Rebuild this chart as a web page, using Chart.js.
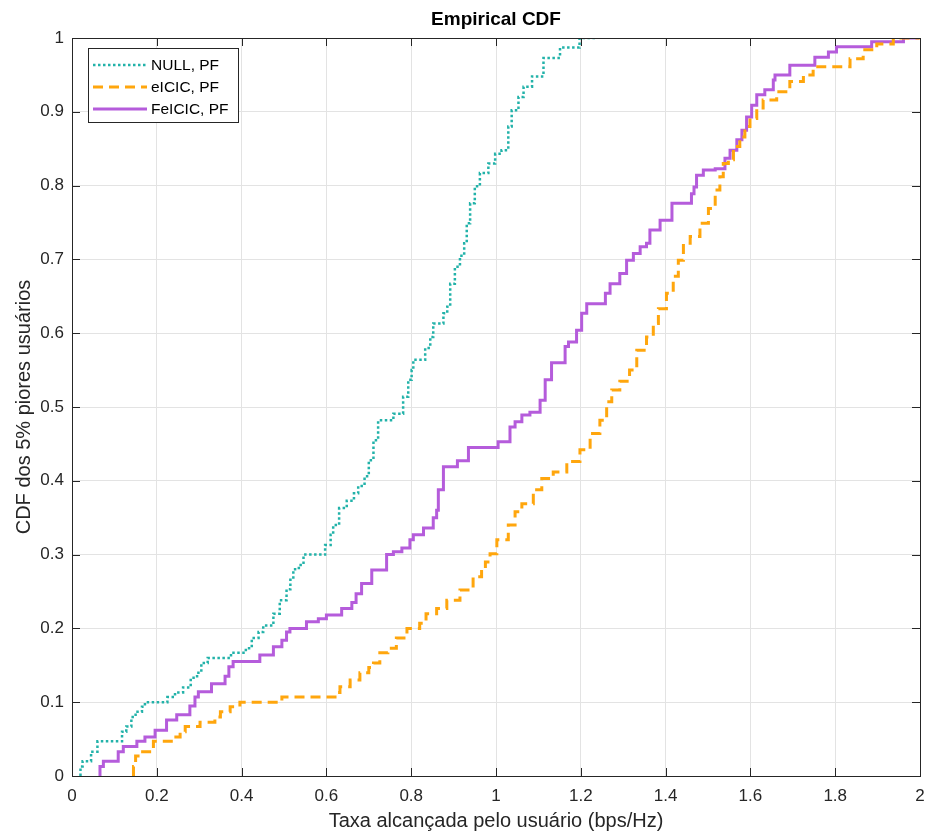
<!DOCTYPE html>
<html>
<head>
<meta charset="utf-8">
<script src="https://cdn.jsdelivr.net/npm/chart.js@4.4.0/dist/chart.umd.min.js"></script>
<style>
  html, body { margin: 0; padding: 0; background: #fff; }
  #wrap { width: 926px; height: 837px; }
</style>
</head>
<body>
<div id="wrap"><canvas id="grafico" width="926" height="837"></canvas></div>
<script>
// dados (CDF empírica, pontos de degrau)
const rotulos = ['NULL, PF', 'eICIC, PF', 'FeICIC, PF'];

const nullX = [0.020, 0.025, 0.045, 0.060, 0.118, 0.128, 0.140, 0.150, 0.165, 0.172, 0.225, 0.243, 0.262, 0.280, 0.295, 0.305, 0.320, 0.375, 0.410, 0.424, 0.440, 0.451, 0.475, 0.490, 0.506, 0.515, 0.522, 0.535, 0.546, 0.597, 0.610, 0.616, 0.630, 0.648, 0.665, 0.675, 0.690, 0.700, 0.711, 0.722, 0.758, 0.781, 0.793, 0.801, 0.805, 0.833, 0.845, 0.852, 0.876, 0.885, 0.892, 0.903, 0.915, 0.925, 0.931, 0.939, 0.950, 0.962, 0.982, 0.998, 1.013, 1.029, 1.037, 1.053, 1.065, 1.085, 1.112, 1.151, 1.197, 1.237];
const nullY = [0.000, 0.013, 0.020, 0.033, 0.047, 0.060, 0.067, 0.080, 0.087, 0.094, 0.100, 0.107, 0.113, 0.120, 0.133, 0.140, 0.153, 0.160, 0.167, 0.173, 0.187, 0.195, 0.204, 0.220, 0.238, 0.253, 0.266, 0.280, 0.286, 0.300, 0.313, 0.327, 0.340, 0.363, 0.373, 0.383, 0.393, 0.406, 0.428, 0.455, 0.482, 0.491, 0.514, 0.537, 0.550, 0.564, 0.580, 0.595, 0.613, 0.627, 0.636, 0.667, 0.690, 0.705, 0.722, 0.749, 0.776, 0.799, 0.817, 0.830, 0.843, 0.848, 0.880, 0.902, 0.920, 0.934, 0.948, 0.973, 0.987, 1.000];

const eicicX = [0.145, 0.150, 0.160, 0.192, 0.239, 0.255, 0.267, 0.302, 0.337, 0.350, 0.373, 0.396, 0.495, 0.624, 0.632, 0.656, 0.679, 0.700, 0.711, 0.726, 0.745, 0.765, 0.790, 0.820, 0.835, 0.860, 0.884, 0.915, 0.946, 0.966, 0.975, 0.986, 1.002, 1.029, 1.045, 1.061, 1.088, 1.108, 1.135, 1.167, 1.198, 1.222, 1.245, 1.261, 1.273, 1.292, 1.315, 1.332, 1.355, 1.371, 1.383, 1.402, 1.418, 1.430, 1.442, 1.458, 1.481, 1.501, 1.517, 1.528, 1.536, 1.548, 1.560, 1.575, 1.587, 1.599, 1.615, 1.630, 1.662, 1.693, 1.725, 1.748, 1.835, 1.866, 1.898, 1.937, 1.984, 2.000];
const eicicY = [0.000, 0.013, 0.027, 0.033, 0.047, 0.053, 0.060, 0.067, 0.073, 0.080, 0.087, 0.094, 0.100, 0.107, 0.113, 0.121, 0.130, 0.140, 0.147, 0.153, 0.167, 0.173, 0.187, 0.200, 0.207, 0.220, 0.227, 0.238, 0.252, 0.270, 0.280, 0.290, 0.301, 0.320, 0.340, 0.358, 0.369, 0.388, 0.403, 0.412, 0.426, 0.442, 0.464, 0.482, 0.507, 0.523, 0.535, 0.550, 0.577, 0.595, 0.613, 0.633, 0.654, 0.677, 0.699, 0.722, 0.731, 0.749, 0.769, 0.794, 0.812, 0.830, 0.835, 0.853, 0.866, 0.880, 0.891, 0.905, 0.916, 0.927, 0.941, 0.950, 0.961, 0.972, 0.984, 0.992, 1.000, 1.000];

const feicicX = [0.066, 0.074, 0.109, 0.121, 0.153, 0.172, 0.196, 0.223, 0.247, 0.278, 0.290, 0.298, 0.329, 0.361, 0.370, 0.380, 0.443, 0.475, 0.495, 0.506, 0.514, 0.553, 0.581, 0.600, 0.636, 0.660, 0.670, 0.683, 0.707, 0.742, 0.758, 0.778, 0.797, 0.805, 0.829, 0.852, 0.860, 0.864, 0.876, 0.909, 0.935, 1.005, 1.033, 1.045, 1.061, 1.080, 1.104, 1.116, 1.131, 1.163, 1.171, 1.190, 1.202, 1.214, 1.258, 1.269, 1.292, 1.308, 1.324, 1.340, 1.355, 1.363, 1.387, 1.415, 1.461, 1.467, 1.473, 1.489, 1.517, 1.540, 1.552, 1.568, 1.580, 1.591, 1.603, 1.615, 1.634, 1.654, 1.658, 1.693, 1.752, 1.784, 1.803, 1.886, 1.961, 1.998];
const feicicY = [0.000, 0.013, 0.020, 0.033, 0.040, 0.047, 0.053, 0.062, 0.076, 0.083, 0.095, 0.107, 0.114, 0.125, 0.135, 0.148, 0.155, 0.164, 0.175, 0.184, 0.195, 0.200, 0.209, 0.213, 0.218, 0.227, 0.235, 0.247, 0.261, 0.279, 0.300, 0.304, 0.309, 0.320, 0.327, 0.336, 0.350, 0.360, 0.388, 0.419, 0.427, 0.445, 0.453, 0.473, 0.480, 0.489, 0.493, 0.509, 0.537, 0.560, 0.582, 0.588, 0.604, 0.627, 0.640, 0.654, 0.667, 0.681, 0.699, 0.708, 0.717, 0.722, 0.740, 0.753, 0.776, 0.789, 0.798, 0.814, 0.821, 0.823, 0.837, 0.848, 0.862, 0.875, 0.893, 0.909, 0.923, 0.930, 0.943, 0.950, 0.963, 0.974, 0.981, 0.988, 0.995, 1.000];

const xTicks = [0, 0.2, 0.4, 0.6, 0.8, 1, 1.2, 1.4, 1.6, 1.8, 2];
const yTicks = [0, 0.1, 0.2, 0.3, 0.4, 0.5, 0.6, 0.7, 0.8, 0.9, 1];

const pares = (xs, ys) => xs.map((x, i) => ({ x: x, y: ys[i] }));

const corTexto = '#262626';
const fonte = '"Liberation Sans", Arial, sans-serif';

// moldura estilo MATLAB: caixa, marcas internas, título e legenda
const moldura = {
  id: 'moldura',
  afterDatasetsDraw(chart) {
    const ctx = chart.ctx;
    const a = chart.chartArea;
    const sx = chart.scales.x, sy = chart.scales.y;
    ctx.save();
    ctx.strokeStyle = corTexto;
    ctx.lineWidth = 1;
    ctx.beginPath();
    xTicks.forEach(v => {
      const px = Math.round(sx.getPixelForValue(v)) + 0.5;
      ctx.moveTo(px, a.bottom); ctx.lineTo(px, a.bottom - 8);
      ctx.moveTo(px, a.top); ctx.lineTo(px, a.top + 8);
    });
    yTicks.forEach(v => {
      const py = Math.round(sy.getPixelForValue(v)) + 0.5;
      ctx.moveTo(a.left, py); ctx.lineTo(a.left + 8, py);
      ctx.moveTo(a.right, py); ctx.lineTo(a.right - 8, py);
    });
    ctx.stroke();
    ctx.strokeRect(Math.round(a.left) + 0.5, Math.round(a.top) + 0.5, Math.round(a.right - a.left), Math.round(a.bottom - a.top));

    // título
    ctx.fillStyle = '#000';
    ctx.font = 'bold 19px ' + fonte;
    ctx.textAlign = 'center';
    ctx.textBaseline = 'middle';
    ctx.fillText('Empirical CDF', (a.left + a.right) / 2, 20);

    // legenda
    const lx = a.left + 16, ly = a.top + 10;
    ctx.fillStyle = '#fff';
    ctx.fillRect(lx, ly, 150, 74);
    ctx.strokeStyle = corTexto;
    ctx.strokeRect(lx + 0.5, ly + 0.5, 150, 74);
    ctx.font = '15.5px ' + fonte;
    ctx.textAlign = 'left';
    chart.data.datasets.forEach((ds, i) => {
      const yy = ly + 17 + i * 22;
      ctx.save();
      ctx.strokeStyle = ds.borderColor;
      ctx.lineWidth = ds.borderWidth;
      ctx.setLineDash(ds.borderDash || []);
      ctx.beginPath();
      ctx.moveTo(lx + 5, yy); ctx.lineTo(lx + 59, yy);
      ctx.stroke();
      ctx.restore();
      ctx.fillStyle = '#000';
      ctx.fillText(ds.label, lx + 63, yy + 1);
    });
    ctx.restore();
  }
};

new Chart(document.getElementById('grafico'), {
  type: 'line',
  data: {
    datasets: [{
      label: rotulos[0],
      data: pares(nullX, nullY),
      borderColor: '#22b2a9',
      borderWidth: 2.5,
      borderDash: [2.5, 2.5],
      stepped: 'after',
      pointRadius: 0,
      fill: false
    }, {
      label: rotulos[1],
      data: pares(eicicX, eicicY),
      borderColor: '#ffa60d',
      borderWidth: 3,
      borderDash: [10, 6],
      stepped: 'after',
      pointRadius: 0,
      fill: false
    }, {
      label: rotulos[2],
      data: pares(feicicX, feicicY),
      borderColor: '#b55cdb',
      borderWidth: 3,
      stepped: 'after',
      pointRadius: 0,
      fill: false
    }]
  },
  options: {
    responsive: false,
    animation: false,
    devicePixelRatio: 1,
    layout: { padding: { top: 38, right: 6, left: 0, bottom: 0 } },
    plugins: {
      legend: { display: false },
      title: { display: false },
      tooltip: { enabled: false }
    },
    scales: {
      x: {
        type: 'linear',
        min: 0,
        max: 2,
        afterBuildTicks: s => { s.ticks = xTicks.map(v => ({ value: v })); },
        afterFit: s => { s.height = 61; s.paddingLeft = 0; s.paddingRight = 0; },
        grid: { color: '#e3e3e3', drawTicks: false },
        border: { display: false },
        ticks: {
          padding: 10,
          color: corTexto,
          font: { family: fonte, size: 17 },
          callback: v => String(v),
          maxRotation: 0
        },
        title: {
          display: true,
          text: 'Taxa alcançada pelo usuário (bps/Hz)',
          color: corTexto,
          font: { family: fonte, size: 20 },
          padding: { top: 0, bottom: 4 }
        }
      },
      y: {
        type: 'linear',
        min: 0,
        max: 1,
        afterBuildTicks: s => { s.ticks = yTicks.map(v => ({ value: v })); },
        afterFit: s => { s.width = 72; s.paddingTop = 0; s.paddingBottom = 0; },
        grid: { color: '#e3e3e3', drawTicks: false },
        border: { display: false },
        ticks: {
          padding: 8,
          color: corTexto,
          font: { family: fonte, size: 17 },
          callback: v => String(v)
        },
        title: {
          display: true,
          text: 'CDF dos 5% piores usuários',
          color: corTexto,
          font: { family: fonte, size: 20 },
          padding: { top: 12, bottom: 0 }
        }
      }
    }
  },
  plugins: [moldura]
});
</script>
</body>
</html>
